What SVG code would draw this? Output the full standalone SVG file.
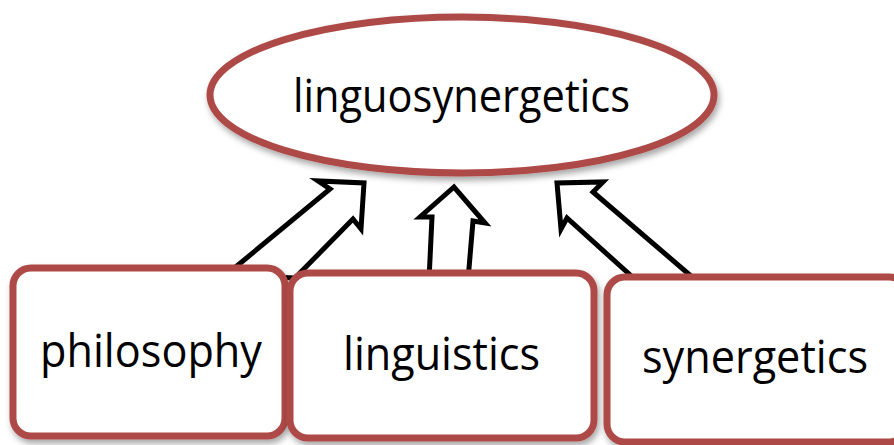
<svg xmlns="http://www.w3.org/2000/svg" width="894" height="445" viewBox="0 0 894 445">
<defs>
<filter id="sh" x="-10%" y="-10%" width="125%" height="130%">
<feDropShadow dx="2" dy="4" stdDeviation="3" flood-color="#000" flood-opacity="0.35"/>
</filter>
<style>
.node{fill:#fff;stroke:#ad4a46;stroke-width:7;filter:url(#sh)}
.arrow{fill:#fff;stroke:#000;stroke-width:5;stroke-linejoin:miter}
.lbl{font-family:"Open Sans","Liberation Sans",sans-serif;font-size:46px;fill:#000;text-anchor:middle}
</style>
</defs>
<rect width="894" height="445" fill="#fff"/>
<g id="connectors">
<polygon class="arrow" points="226,275 330,189 318,181 364,183 361,229 353,219 295,278"/>
<polygon class="arrow" points="429,280 432,217 420,217 454,187 485,223 473,221 468,280"/>
<polygon class="arrow" points="638,282 567,218 561,229 557,183 603,182 593,192 698,282"/>
</g>
<g id="linguosynergetics">
<ellipse class="node" cx="462" cy="95" rx="252" ry="78"/>
<text class="lbl" x="461.5" y="112" textLength="337" lengthAdjust="spacingAndGlyphs">linguosynergetics</text>
</g>
<g id="philosophy">
<rect class="node" x="13" y="268" width="272" height="168" rx="18"/>
<text class="lbl" x="151" y="367" textLength="222" lengthAdjust="spacingAndGlyphs">philosophy</text>
</g>
<g id="linguistics">
<rect class="node" x="290" y="273" width="304" height="165" rx="18"/>
<text class="lbl" x="441.5" y="370" textLength="197" lengthAdjust="spacingAndGlyphs">linguistics</text>
</g>
<g id="synergetics">
<rect class="node" x="607" y="277" width="300" height="165" rx="18"/>
<text class="lbl" x="755" y="373" textLength="226" lengthAdjust="spacingAndGlyphs">synergetics</text>
</g>
</svg>
